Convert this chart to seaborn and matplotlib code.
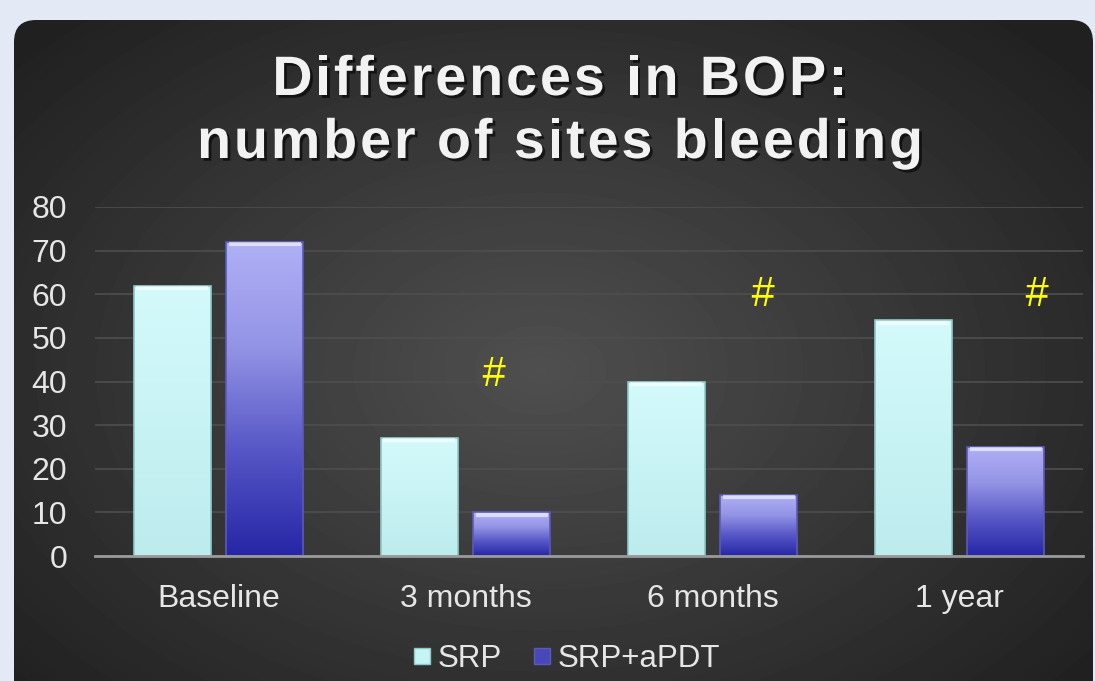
import numpy as np
import pandas as pd
import seaborn as sns
import matplotlib.pyplot as plt
import matplotlib.patheffects as pe
from matplotlib.patches import FancyBboxPatch
from matplotlib.colors import LinearSegmentedColormap
from matplotlib.lines import Line2D
from matplotlib.font_manager import FontProperties, findfont, get_font

# %% Data

categories = ["Baseline", "3 months", "6 months", "1 year"]
srp = [62, 27, 40, 54]
srp_apdt = [72, 10, 14, 25]
groups = ["SRP", "SRP+aPDT"]

# significance marks "#" (category position, value)
hash_x = [1.11, 2.2, 3.31]
hash_y = [41.5, 59.8, 59.8]

title_lines = ["Differences in BOP:", "number of sites bleeding"]

df = pd.DataFrame({
    "time": categories * 2,
    "sites": srp + srp_apdt,
    "group": [groups[0]] * len(srp) + [groups[1]] * len(srp_apdt),
})

# %% Figure and dark rounded panel

W, H = 1095, 681
fig = plt.figure(figsize=(W / 100, H / 100), dpi=100)
fig.patch.set_facecolor("#e3eaf6")

bg = fig.add_axes([0, 0, 1, 1])
bg.set_xlim(0, W)
bg.set_ylim(H, 0)
bg.axis("off")
panel = FancyBboxPatch((14, 20), 1079, 700, boxstyle="round,pad=0,rounding_size=22",
                       transform=bg.transData, facecolor="none", edgecolor="none")
bg.add_patch(panel)
yy, xx = np.mgrid[0:H, 0:W]
r = np.sqrt(((xx - 540) / 620) ** 2 + ((yy - 370) / 420) ** 2)
shade = np.clip(0.31 - 0.16 * r, 0.13, 0.31)
bg.imshow(shade, cmap="gray", vmin=0, vmax=1, extent=(0, W, H, 0),
          clip_path=panel, interpolation="bilinear")

# %% Bar chart

sns.set_style("dark")
ax = fig.add_axes([95 / W, (H - 556) / H, (1083 - 95) / W, (556 - 207) / H])
ax.patch.set_alpha(0)
sns.barplot(data=df, x="time", y="sites", hue="group", order=categories,
            hue_order=groups, palette=["#c6f4f6", "#6a6ad8"], width=0.75,
            gap=0.17, ax=ax, legend=False)

ax.set_ylim(0, 80)
ax.set_xlim(-0.5, 3.5)
ax.set_yticks(np.arange(0, 81, 10))
ax.set_xlabel("")
ax.set_ylabel("")
ax.grid(axis="y", color="#4e4e4e", linewidth=1.2, zorder=0)
ax.grid(axis="x", visible=False)
ax.set_axisbelow(True)
for s in ["top", "right", "left"]:
    ax.spines[s].set_visible(False)
ax.spines["bottom"].set_color("#9a9a9a")
ax.spines["bottom"].set_linewidth(2)
ax.spines["bottom"].set_zorder(5)
ax.tick_params(axis="both", colors="#e6e6e6", labelsize=23, length=0)
ax.tick_params(axis="y", pad=20)
ax.tick_params(axis="x", pad=20)

# gradient fills for the bars
cmap_srp = LinearSegmentedColormap.from_list("srp", ["#bdecee", "#d4fafb"])
cmap_apdt = LinearSegmentedColormap.from_list("apdt", ["#2626a6", "#5656c6", "#9494e6", "#b0b0f6"])
grad = np.linspace(0, 1, 256).reshape(-1, 1)
n = len(categories)
for i, bar in enumerate(ax.patches[:2 * n]):
    x0, y0 = bar.get_x(), bar.get_y()
    w, h = bar.get_width(), bar.get_height()
    cmap = cmap_srp if i < n else cmap_apdt
    im = ax.imshow(grad, cmap=cmap, origin="lower", aspect="auto",
                   extent=(x0, x0 + w, y0, y0 + h), zorder=3)
    im.set_clip_path(bar)
    bar.set_edgecolor("#8fc8c8" if i < n else "#5a5ab8")
    bar.set_linewidth(1.2)
    bar.set_zorder(4)
    bar.set_facecolor("none")
    # light bevel at the top
    ax.plot([x0 + 0.01, x0 + w - 0.01], [y0 + h - 0.5, y0 + h - 0.5],
            color="white", alpha=0.6, linewidth=3, zorder=4, solid_capstyle="butt")
ax.set_xlim(-0.5, 3.5)
ax.set_ylim(0, 80)

for hx, hy in zip(hash_x, hash_y):
    ax.text(hx, hy, "#", color="#ffff00", fontsize=30, style="italic",
            ha="center", va="center", zorder=6, family="Liberation Sans")

# %% Title with letter spacing (drawn char by char)

title_size = 40
tracking = 3.0  # extra px between letters
prop = FontProperties(family="Liberation Sans", weight="bold", size=title_size)
ft = get_font(findfont(prop))
ft.set_size(title_size, 100)
shadow = [pe.withSimplePatchShadow(offset=(2, -2), shadow_rgbFace="black", alpha=0.6)]
for line, ypix in zip(title_lines, [95, 158]):
    adv = [ft.load_char(ord(c)).linearHoriAdvance / 65536 for c in line]
    total = sum(adv) + tracking * (len(line) - 1)
    xpix = 560 - total / 2
    for c, a in zip(line, adv):
        if c != " ":
            fig.text(xpix / W, 1 - ypix / H, c, ha="left", va="baseline",
                     fontproperties=prop, color="#f2f2f2", path_effects=shadow)
        xpix += a + tracking

# %% Legend

handles = [
    Line2D([], [], marker="s", linestyle="none", markersize=11,
           markerfacecolor="#c6f4f6", markeredgecolor="#8fc8c8"),
    Line2D([], [], marker="s", linestyle="none", markersize=11,
           markerfacecolor="#4848b8", markeredgecolor="#5a5ab8"),
]
leg = fig.legend(handles, groups, loc="center", bbox_to_anchor=(565 / W, 1 - 659 / H),
                 ncol=2, frameon=False, fontsize=22.5, handletextpad=0.1,
                 columnspacing=0.9, handlelength=0.8)
for t in leg.get_texts():
    t.set_color("#e6e6e6")

for t in ax.get_xticklabels() + ax.get_yticklabels():
    t.set_family("Liberation Sans")
for t in leg.get_texts():
    t.set_family("Liberation Sans")

fig.savefig("out.png", dpi=100, facecolor=fig.get_facecolor())
